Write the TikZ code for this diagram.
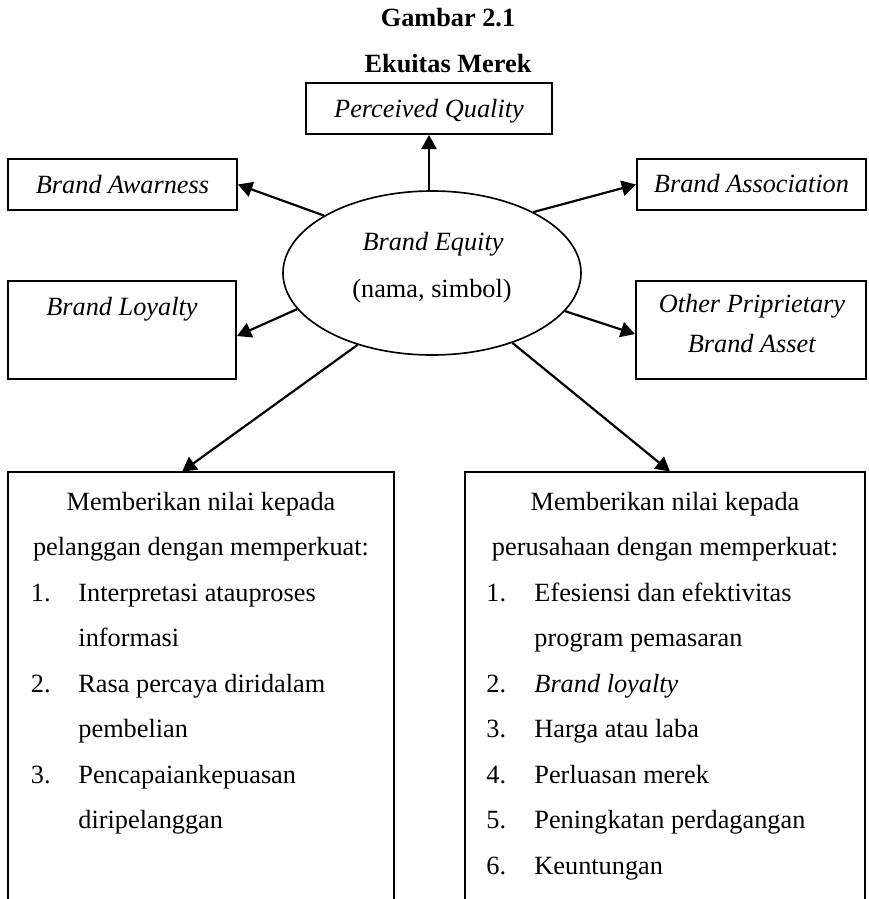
\documentclass[tikz,border=0pt]{standalone}
\usepackage{fontspec}
\setmainfont{Liberation Serif}
\usetikzlibrary{arrows.meta,shapes.geometric,calc}
\def\pu{0.4563pt}
\begin{document}
\begin{tikzpicture}[x=0.4563pt, y=-0.4563pt, font=\fontsize{12}{14}\selectfont,
  box/.style={draw, line width=0.9pt, inner sep=0pt},
  txt/.style={anchor=base, inner sep=0pt},
  num/.style={anchor=base west, inner sep=0pt},
  arr/.style={-{Triangle[length=6.5pt,width=7pt]}, line width=1pt}]
\useasboundingbox (0,0) rectangle (869,899);
% titles
\node[txt, font=\fontsize{12}{14}\selectfont\bfseries] (t1) at (448,26) {Gambar 2.1};
\node[txt, font=\fontsize{12}{14}\selectfont\bfseries] (t2) at (448,72) {Ekuitas Merek};
% boxes
\node[box, minimum width={246*\pu}, minimum height={51*\pu}] (pq) at (429,108.5) {};
\node[box, minimum width={229*\pu}, minimum height={51*\pu}] (aw) at (122.5,184.5) {};
\node[box, minimum width={229*\pu}, minimum height={51*\pu}] (as) at (751.5,184.5) {};
\node[box, minimum width={228*\pu}, minimum height={98*\pu}] (bl) at (122,330) {};
\node[box, minimum width={230*\pu}, minimum height={98*\pu}] (op) at (751,330) {};
\node[ellipse, draw, line width=0.75pt, inner sep=0pt, minimum width={298*\pu}, minimum height={164*\pu}] (eq) at (432,273) {};
\node[draw=none, inner sep=0pt, minimum width={386*\pu}, minimum height={427*\pu}] (lb) at (201,685.5) {};
\node[draw=none, inner sep=0pt, minimum width={400*\pu}, minimum height={427*\pu}] (rb) at (665,685.5) {};
\draw[line width=0.9pt] (lb.south west) |- (lb.north east) -- (lb.south east);
\draw[line width=0.9pt] (rb.south west) |- (rb.north east) -- (rb.south east);
% box texts
\node[txt] (pqt) at (429,117) {\textit{Perceived Quality}};
\node[txt] (awt) at (122.5,193) {\textit{Brand Awarness}};
\node[txt] (ast) at (751.5,192) {\textit{Brand Association}};
\node[txt] (eqt1) at (433,250) {\textit{Brand Equity}};
\node[txt] (eqt2) at (432,297) {(nama, simbol)};
\node[txt] (blt) at (122,315) {\textit{Brand Loyalty}};
\node[txt] (opt1) at (752,312) {\textit{Other Priprietary}};
\node[txt] (opt2) at (752,352) {\textit{Brand Asset}};
% arrows
\draw[arr] (pq.south |- eq.north) -- (pq.south);
\draw[arr] (eq.152.4) -- (aw.east);
\draw[arr] (eq.31.5) -- (as.west);
\draw[arr] (eq.195.8) -- (bl.357.5);
\draw[arr] (eq.344.2) -- (op.182.5);
\draw[arr] (eq.224.2) -- ($(lb.north west)!0.451!(lb.north east)$);
\draw[arr] (eq.319.6) -- ($(rb.north west)!0.5125!(rb.north east)$);
% left box text
\node[txt] (l0a) at (201,510) {Memberikan nilai kepada};
\node[txt] (l0b) at (201,555.5) {pelanggan dengan memperkuat:};
\node[num] (l1n) at (30.5,601) {1.};
\node[num] (l1a) at (78,601) {Interpretasi atauproses};
\node[num] (l1b) at (78,646.5) {informasi};
\node[num] (l2n) at (30.5,692) {2.};
\node[num] (l2a) at (78,692) {Rasa percaya diridalam};
\node[num] (l2b) at (78,737.5) {pembelian};
\node[num] (l3n) at (30.5,783) {3.};
\node[num] (l3a) at (78,783) {Pencapaiankepuasan};
\node[num] (l3b) at (78,828.5) {diripelanggan};
% right box text
\node[txt] (r0a) at (665,510) {Memberikan nilai kepada};
\node[txt] (r0b) at (665,555.5) {perusahaan dengan memperkuat:};
\node[num] (r1n) at (486,601) {1.};
\node[num] (r1a) at (534,601) {Efesiensi dan efektivitas};
\node[num] (r1b) at (534,646.5) {program pemasaran};
\node[num] (r2n) at (486,692) {2.};
\node[num] (r2a) at (534,692) {\textit{Brand loyalty}};
\node[num] (r3n) at (486,737.5) {3.};
\node[num] (r3a) at (534,737.5) {Harga atau laba};
\node[num] (r4n) at (486,783) {4.};
\node[num] (r4a) at (534,783) {Perluasan merek};
\node[num] (r5n) at (486,828.5) {5.};
\node[num] (r5a) at (534,828.5) {Peningkatan perdagangan};
\node[num] (r6n) at (486,874) {6.};
\node[num] (r6a) at (534,874) {Keuntungan};
\end{tikzpicture}
\end{document}
